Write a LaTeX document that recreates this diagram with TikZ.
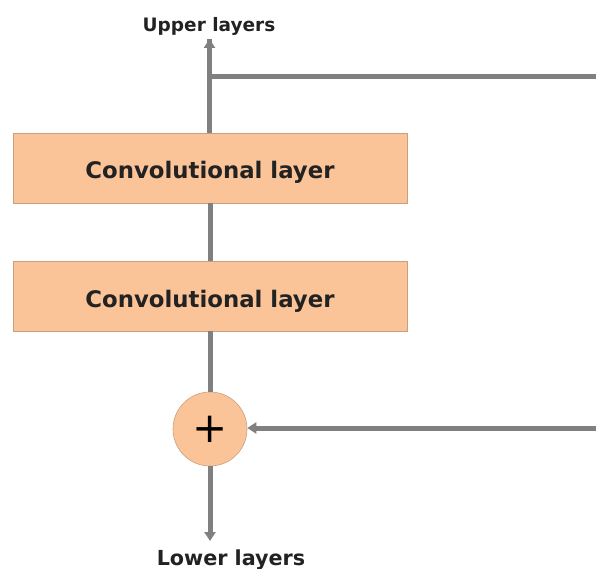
\documentclass[tikz,border=0pt]{standalone}
\usepackage{fontspec}
\setmainfont{DejaVu Sans}
\usetikzlibrary{arrows.meta}
\definecolor{boxfill}{HTML}{FBC498}
\definecolor{boxline}{HTML}{C8A080}
\definecolor{linegray}{HTML}{808080}
\definecolor{txt}{HTML}{222222}
\tikzset{
  layerbox/.style={draw=boxline, line width=0.6pt, fill=boxfill, minimum width=394pt, minimum height=70pt, inner sep=0pt, text height=22pt, text depth=0pt, font=\fontsize{22.8}{26}\selectfont\bfseries, text=txt},
  sumnode/.style={circle, draw=boxline, line width=0.6pt, fill=boxfill, minimum size=74pt, inner sep=0pt, font=\fontsize{42}{46}\selectfont, text=black},
  wire/.style={draw=linegray, line width=5pt},
  arrowwire/.style={wire, -{Triangle[length=9pt,width=11pt]}},
  lbl/.style={text=txt, inner sep=0pt, anchor=base}
}
\begin{document}
\begin{tikzpicture}[x=1pt,y=-1pt]
\useasboundingbox (0,0) rectangle (596,569);
\node[layerbox] (c1) at (210,168) {Convolutional layer};
\node[layerbox] (c2) at (210,296) {Convolutional layer};
\node[sumnode] (sum) at (210,429) {+};
\node[lbl, font=\fontsize{18.5}{22}\selectfont\bfseries] (up) at (209,32) {Upper layers};
\node[lbl, font=\fontsize{20.7}{24}\selectfont\bfseries] (low) at (231,565) {Lower layers};
\coordinate (uptip) at (209.5,39);
\coordinate (lowtip) at (210,541);
\coordinate (jn) at (209.5,77);
\coordinate (rtop) at (596,77);
\coordinate (rbot) at (596,428);
\draw[wire] (c1.north -| uptip) -- (uptip);
\draw[arrowwire] ([yshift=-4pt]jn) -- (uptip);
\draw[wire] (jn) -- (rtop);
\draw[wire] (c1.south) -- (c2.north);
\draw[wire] (c2.south) -- (sum.north);
\draw[arrowwire] (sum.south) -- (lowtip);
\draw[arrowwire] (rbot) -- (sum.east |- rbot);
\end{tikzpicture}
\end{document}
